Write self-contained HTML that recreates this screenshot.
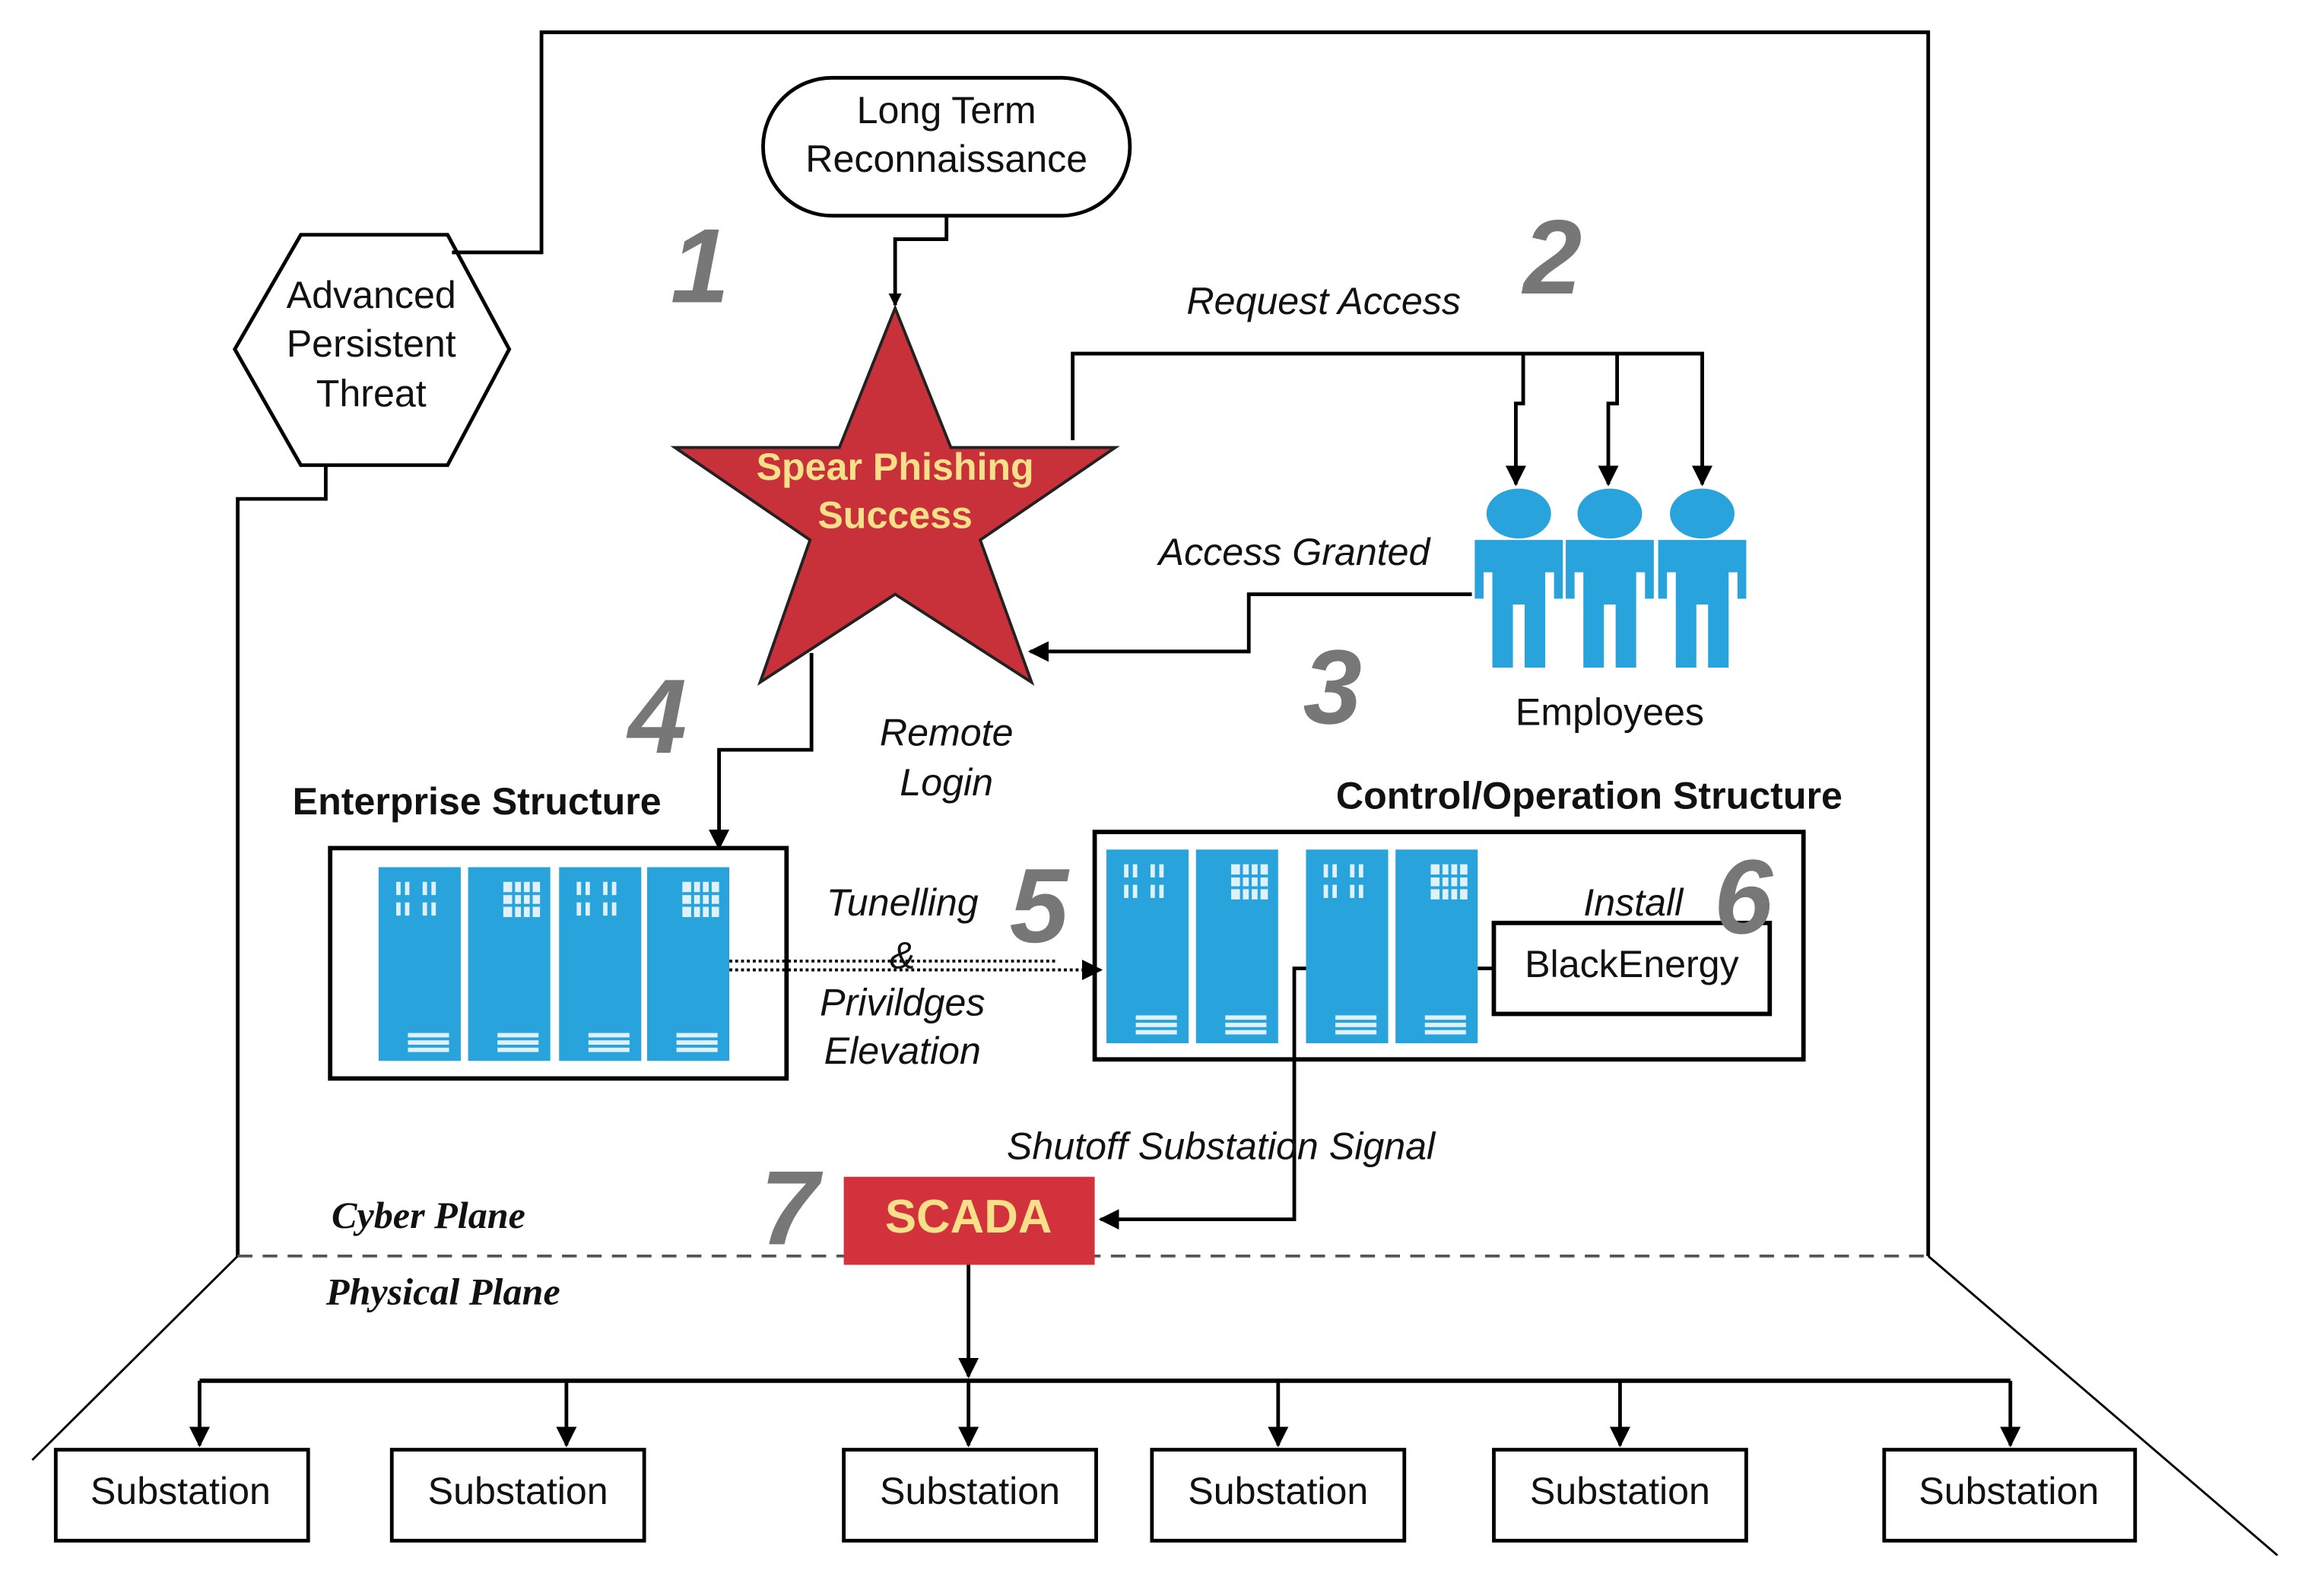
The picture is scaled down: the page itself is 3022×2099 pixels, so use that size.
<!DOCTYPE html>
<html><head><meta charset="utf-8"><style>html,body{margin:0;padding:0;background:#fff}svg{display:block}</style></head>
<body>
<svg width="3022" height="2099" viewBox="0 0 1566 1087.7" preserveAspectRatio="none" xmlns="http://www.w3.org/2000/svg" font-family="Liberation Sans, sans-serif">
<defs>
<marker id="a" viewBox="0 0 10 10" refX="9" refY="5" markerWidth="9" markerHeight="9" markerUnits="userSpaceOnUse" orient="auto"><path d="M0,0L10,5L0,10z" fill="#000"/></marker>
<marker id="b" viewBox="0 0 10 10" refX="9" refY="5" markerWidth="14" markerHeight="14" markerUnits="userSpaceOnUse" orient="auto"><path d="M0,0L10,5L0,10z" fill="#000"/></marker>
<g id="srv1"><rect width="56" height="132" fill="#29a3dc"/><g fill="#dff1fb"><rect x="12" y="10" width="3" height="9"/><rect x="18" y="10" width="3" height="9"/><rect x="30" y="10" width="3" height="9"/><rect x="36" y="10" width="3" height="9"/><rect x="12" y="24" width="3" height="9"/><rect x="18" y="24" width="3" height="9"/><rect x="30" y="24" width="3" height="9"/><rect x="36" y="24" width="3" height="9"/><rect x="20" y="113" width="28" height="3"/><rect x="20" y="118" width="28" height="3"/><rect x="20" y="123" width="28" height="3"/></g></g>
<g id="srv2"><rect width="56" height="132" fill="#29a3dc"/><rect x="24" y="10" width="25" height="24" fill="#dff1fb"/><g fill="#29a3dc"><rect x="30" y="10" width="2" height="24"/><rect x="36" y="10" width="2" height="24"/><rect x="42" y="10" width="2" height="24"/><rect x="24" y="17" width="25" height="2"/><rect x="24" y="25" width="25" height="2"/></g><g fill="#dff1fb"><rect x="20" y="113" width="28" height="3"/><rect x="20" y="118" width="28" height="3"/><rect x="20" y="123" width="28" height="3"/></g></g>
<g id="emp" fill="#29a3dc"><ellipse cx="0" cy="350" rx="22" ry="17"/><path d="M-30,368H30V408H24V390H18V455H4V412H-4V455H-18V390H-24V408H-30z"/></g>
</defs>
<g fill="none" stroke="#000" stroke-width="2.5">
<polyline points="308,172 369,172 369,22 1314,22 1314,856"/>
<polyline points="222,317 222,340 162,340 162,856"/>
<line x1="162" y1="856" x2="22" y2="995" stroke-width="1.5"/>
<line x1="1314" y1="856" x2="1552" y2="1060" stroke-width="1.5"/>
<line x1="162" y1="856" x2="1314" y2="856" stroke="#555" stroke-dasharray="10,7" stroke-width="2"/>
<polygon points="160,238 205,160 305,160 347,238 305,317 205,317"/>
<rect x="520" y="53" width="250" height="94" rx="47"/>
<polyline points="645,147 645,163 610,163 610,208" marker-end="url(#a)"/>
<polyline points="731,300 731,241 1160,241 1160,330" marker-end="url(#b)"/>
<polyline points="1038,241 1038,275 1033,275 1033,330" marker-end="url(#b)"/>
<polyline points="1102,241 1102,275 1096,275 1096,330" marker-end="url(#b)"/>
<polyline points="1003,405 851,405 851,444 702,444" marker-end="url(#b)"/>
<polyline points="553,445 553,511 490,511 490,578" marker-end="url(#b)"/>
<rect x="225" y="578" width="311" height="157" stroke-width="3"/>
<rect x="746" y="567" width="483" height="155" stroke-width="3"/>
<rect x="1018" y="629" width="188" height="62" stroke-width="3"/>
<line x1="1007" y1="660" x2="1018" y2="660"/>
<line x1="497" y1="655" x2="720" y2="655" stroke-dasharray="2,2" stroke-width="2"/>
<line x1="497" y1="661" x2="750" y2="661" stroke-dasharray="2,2" stroke-width="2" marker-end="url(#b)"/>
<polyline points="890,660 882,660 882,831 750,831" marker-end="url(#b)"/>
<line x1="660" y1="862" x2="660" y2="938" marker-end="url(#b)"/>
<line x1="136" y1="941" x2="1370" y2="941" stroke-width="3"/>
<g marker-end="url(#b)"><line x1="136" y1="941" x2="136" y2="985"/><line x1="386" y1="941" x2="386" y2="985"/><line x1="660" y1="941" x2="660" y2="985"/><line x1="871" y1="941" x2="871" y2="985"/><line x1="1104" y1="941" x2="1104" y2="985"/><line x1="1370" y1="941" x2="1370" y2="985"/></g>
<g stroke-width="2.5"><rect x="38" y="988" width="172" height="62"/><rect x="267" y="988" width="172" height="62"/><rect x="575" y="988" width="172" height="62"/><rect x="785" y="988" width="172" height="62"/><rect x="1018" y="988" width="172" height="62"/><rect x="1284" y="988" width="171" height="62"/></g>
</g>
<polygon points="610,210 648,305 760,305 668,368 703,465 610,405 518,465 552,368 460,305 572,305" fill="#c8303a" stroke="#222" stroke-width="2"/>
<use href="#srv1" x="258" y="591"/><use href="#srv2" x="319" y="591"/><use href="#srv1" x="381" y="591"/><use href="#srv2" x="441" y="591"/>
<use href="#srv1" x="754" y="579"/><use href="#srv2" x="815" y="579"/><use href="#srv1" x="890" y="579"/><use href="#srv2" x="951" y="579"/>
<use href="#emp" x="1035"/><use href="#emp" x="1097"/><use href="#emp" x="1160"/>
<rect x="575" y="802" width="171" height="60" fill="#d1323c"/>
<g font-size="26" text-anchor="middle" fill="#111">
<text x="253" y="210">Advanced</text><text x="253" y="243">Persistent</text><text x="253" y="277">Threat</text>
<text x="645" y="84">Long Term</text><text x="645" y="117">Reconnaissance</text>
<text x="1097" y="494">Employees</text>
<text x="1112" y="666">BlackEnergy</text>
<g><text x="123" y="1025">Substation</text><text x="353" y="1025">Substation</text><text x="661" y="1025">Substation</text><text x="871" y="1025">Substation</text><text x="1104" y="1025">Substation</text><text x="1369" y="1025">Substation</text></g>
<g font-style="italic"><text x="902" y="214">Request Access</text><text x="882" y="385">Access Granted</text><text x="645" y="508">Remote</text><text x="645" y="542">Login</text><text x="615" y="624">Tunelling</text><text x="615" y="660">&amp;</text><text x="615" y="692">Privildges</text><text x="615" y="725">Elevation</text><text x="1113" y="624">Install</text><text x="832" y="790">Shutoff Substation Signal</text></g>
<g font-weight="bold"><text x="325" y="555">Enterprise Structure</text><text x="1083" y="551">Control/Operation Structure</text>
<text x="610" y="327" fill="#f7e08a">Spear Phishing</text><text x="610" y="360" fill="#f7e08a">Success</text>
<text x="660" y="840" fill="#f7e08a" font-size="32">SCADA</text></g>
</g>
<g font-family="Liberation Serif, serif" font-style="italic" font-weight="bold" font-size="26" fill="#111" text-anchor="middle"><text x="292" y="837">Cyber Plane</text><text x="302" y="889">Physical Plane</text></g>
<g font-family="Liberation Sans, sans-serif" font-style="italic" font-weight="bold" font-size="72" fill="#777" text-anchor="middle">
<text x="477" y="206">1</text><text x="1058" y="200">2</text><text x="908" y="493">3</text><text x="448" y="513">4</text><text x="708" y="642">5</text><text x="1188" y="636">6</text><text x="538" y="848">7</text></g>
</svg>
</body></html>
